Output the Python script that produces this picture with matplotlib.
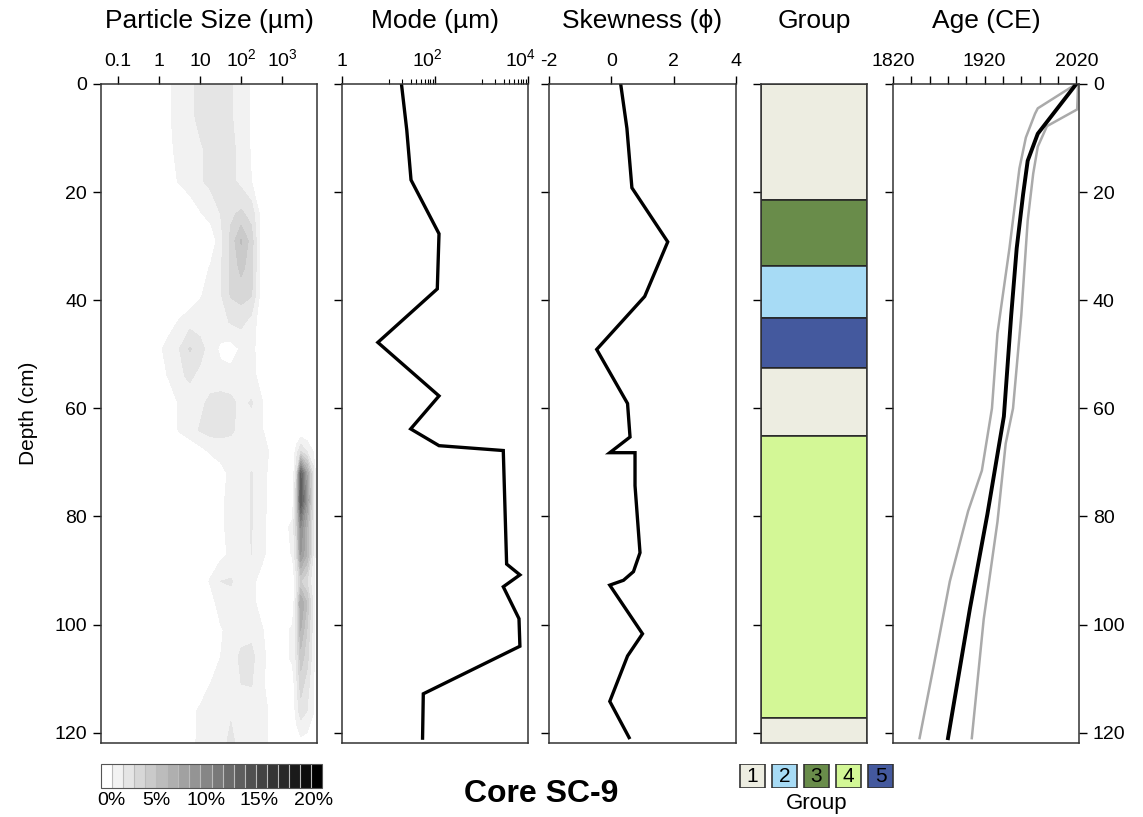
import numpy as np
import matplotlib.pyplot as plt
from matplotlib.colors import ListedColormap
from matplotlib.ticker import NullFormatter
from matplotlib.transforms import ScaledTranslation

plt.rcParams['font.family'] = ['Liberation Sans', 'DejaVu Sans']
plt.rcParams['mathtext.fontset'] = 'custom'
plt.rcParams['mathtext.rm'] = 'Liberation Sans'
plt.rcParams['axes.unicode_minus'] = False

# particle size distribution (% per size class)
ps_depth = [0, 6, 12, 18, 24, 29, 34, 39, 44, 49, 54, 59, 64, 68, 72, 77, 82, 87, 92, 96, 101, 106, 111, 116, 122]
ps_size = [0.04, 1, 1.78, 3.16, 5.62, 10, 17.8, 31.6, 56.2, 100, 178, 316, 562, 1000, 1778, 2239, 2818, 3981, 5623, 7079]
ps_pct = [
    [0, 0.3, 0.9, 1.4, 1.8, 2.2, 2.4, 2.4, 2.1, 1.5, 0.9, 0.3, 0, 0, 0, 0, 0, 0, 0, 0],
    [0, 0.3, 0.9, 1.4, 1.8, 2.2, 2.4, 2.4, 2.1, 1.5, 0.9, 0.3, 0, 0, 0, 0, 0, 0, 0, 0],
    [0, 0.2, 0.8, 1.3, 1.6, 1.9, 2.2, 2.4, 2.3, 1.6, 0.9, 0.3, 0, 0, 0, 0, 0, 0, 0, 0],
    [0, 0.1, 0.6, 1.1, 1.5, 1.9, 2.2, 2.4, 2.3, 1.7, 1.0, 0.3, 0, 0, 0, 0, 0, 0, 0, 0],
    [0, 0, 0, 0, 0.3, 0.9, 1.4, 2.0, 2.8, 3.2, 2.6, 0.5, 0, 0, 0, 0, 0, 0, 0, 0],
    [0, 0, 0, 0, 0, 0, 0.2, 1.6, 3.3, 5.1, 3.5, 0.3, 0, 0, 0, 0, 0, 0, 0, 0],
    [0, 0, 0, 0, 0, 0.4, 1.1, 1.9, 3.2, 4.3, 3.4, 0.3, 0, 0, 0, 0, 0, 0, 0, 0],
    [0, 0, 0, 0, 0.3, 0.9, 1.4, 1.9, 3.1, 3.4, 3.1, 0.4, 0, 0, 0, 0, 0, 0, 0, 0],
    [0, 0, 0.6, 1.1, 1.6, 1.5, 1.3, 1.6, 2.1, 2.3, 1.6, 0.3, 0, 0, 0, 0, 0, 0, 0, 0],
    [0, 0.8, 1.4, 2.0, 3.1, 2.4, 1.5, 0.8, 0.6, 1.1, 1.3, 0.4, 0, 0, 0, 0, 0, 0, 0, 0],
    [0, 0.6, 1.1, 1.8, 2.2, 1.7, 1.4, 1.3, 1.3, 1.3, 1.4, 0.5, 0, 0, 0, 0, 0, 0, 0, 0],
    [0, 0, 0.5, 1.1, 1.4, 1.7, 2.3, 2.5, 2.3, 1.7, 2.1, 1.1, 0.2, 0, 0, 0, 0, 0, 0, 0],
    [0, 0, 0.4, 1.1, 1.5, 2.1, 2.4, 2.4, 2.2, 1.6, 1.5, 1.1, 0.3, 0, 0, 0, 0, 0, 0, 0],
    [0, 0, 0, 0, 0.3, 0.6, 1.1, 1.3, 1.4, 1.4, 1.3, 1.2, 0.9, 0.2, 0.2, 1.5, 3.0, 2.0, 1.0, 0],
    [0, 0, 0, 0, 0, 0, 0.3, 0.7, 1.2, 1.6, 2.05, 1.3, 0.7, 0.2, 0, 3.0, 12.0, 7.0, 2.5, 0],
    [0, 0, 0, 0, 0, 0, 0.3, 0.8, 1.3, 1.6, 2.05, 1.3, 0.7, 0.2, 0.3, 4.0, 13.0, 8.0, 2.5, 0],
    [0, 0, 0, 0, 0, 0, 0.3, 0.8, 1.3, 1.6, 2.05, 1.2, 0.6, 0.5, 1.3, 3.5, 9.0, 6.0, 2.2, 0],
    [0, 0, 0, 0, 0, 0, 0.3, 0.7, 1.2, 1.5, 2.0, 1.2, 0.6, 0.4, 1.1, 3.0, 8.0, 6.0, 2.0, 0],
    [0, 0, 0, 0, 0, 0.4, 1.1, 2.0, 2.1, 1.5, 1.2, 0.7, 0.4, 0, 0.2, 1.8, 4.0, 3.0, 1.3, 0],
    [0, 0, 0, 0, 0, 0, 0.6, 1.4, 1.6, 1.3, 1.3, 0.6, 0, 0, 0.2, 2.5, 7.0, 5.0, 1.8, 0],
    [0, 0, 0, 0, 0, 0, 0.4, 0.9, 1.3, 1.6, 1.7, 1.1, 0.4, 0.6, 1.2, 2.5, 6.0, 4.0, 1.6, 0],
    [0, 0, 0, 0, 0, 0, 0.5, 1.0, 1.5, 2.2, 2.3, 1.3, 0.5, 0.6, 1.2, 2.2, 4.5, 3.5, 1.4, 0],
    [0, 0, 0, 0, 0, 0.3, 1.0, 1.3, 1.6, 2.0, 2.05, 1.2, 0.4, 0.2, 0.5, 1.8, 3.5, 2.5, 1.2, 0],
    [0, 0, 0, 0, 0.6, 1.2, 1.4, 1.6, 1.9, 1.6, 1.5, 1.3, 0.8, 0, 0.2, 1.5, 2.5, 2.0, 1.1, 0],
    [0, 0, 0, 0, 0.7, 1.2, 1.4, 1.7, 2.2, 1.7, 1.5, 1.3, 0.8, 0, 0, 0.3, 0.6, 0.5, 0.2, 0],
]

# mode grain size (um)
mode_depth = [0, 8.5, 17.75, 27.7, 37.9, 47.8, 57.7, 63.8, 66.9, 67.8, 88.8, 90.8, 93, 98.9, 104, 112.8, 121]
mode_um = [19, 24.7, 30.5, 122, 112, 5.9, 122, 30, 122, 2940, 3470, 6700, 2940, 6400, 6700, 56, 54]

# skewness (phi)
skew_depth = [0, 8.2, 19.2, 29.2, 39.3, 49.1, 59.1, 65.3, 68.2, 68.2, 74.3, 86.7, 90.2, 91.8, 92.7, 101.7, 105.8, 114.2, 120.9]
skew_phi = [0.30, 0.50, 0.66, 1.81, 1.07, -0.47, 0.52, 0.60, -0.05, 0.76, 0.76, 0.92, 0.71, 0.39, -0.05, 1.00, 0.52, -0.05, 0.57]

# groups (top, bottom, id)
grp_top = [0, 21.5, 33.6, 43.3, 52.6, 65.2, 117.2]
grp_bot = [21.5, 33.6, 43.3, 52.6, 65.2, 117.2, 122]
grp_id = [1, 3, 2, 5, 1, 4, 1]
grp_names = ['1', '2', '3', '4', '5']
grp_colors = {1: '#EDEDE1', 2: '#A7DBF5', 3: '#698C4A', 4: '#D3F796', 5: '#44599E'}

# age model
age_depth = [0, 9.2, 14.2, 20.4, 30.4, 42.8, 61.5, 66.5, 79.6, 97, 121]
age_mean = [2020, 1978, 1967, 1962, 1955, 1949, 1941, 1936, 1923, 1904, 1880]
age_lo_depth = [0, 4.5, 5.5, 9.9, 15.6, 30.5, 46.1, 60, 71.5, 79, 92, 108, 121]
age_lo = [2020, 1978, 1975, 1965, 1958, 1947, 1934, 1928, 1917, 1902, 1882, 1864, 1849]
age_hi_depth = [0, 4.7, 7.8, 11.6, 16.6, 25.3, 42.8, 60, 66.5, 81, 99, 121]
age_hi = [2022, 2021, 1988, 1978, 1973, 1967, 1960, 1951, 1943, 1934, 1919, 1906]

cbar_ticks = [0.9, 5, 9.5, 14.3, 19.2]
cbar_labels = ['0%', '5%', '10%', '15%', '20%']

W, H = 1143, 817
fig = plt.figure(figsize=(W / 100, H / 100), dpi=100)

TICK = 14
TITLE = 19
DMAX = 121.9


def add_panel(x0, x1):
    ax = fig.add_axes([x0 / W, 1 - 743 / H, (x1 - x0) / W, (743 - 84) / H])
    ax.set_ylim(DMAX, 0)
    ax.set_yticks(np.arange(0, 121, 20))
    ax.tick_params(which='both', direction='out', length=6, width=1, labelsize=TICK, pad=4,
                   top=True, bottom=False, labeltop=True, labelbottom=False,
                   left=True, labelleft=False)
    for s in ax.spines.values():
        s.set_color('#333333')
        s.set_linewidth(1.1)
    return ax


def title(ax, txt):
    ax.text(0.5, 1 + (84 - 21) / 659, txt, transform=ax.transAxes,
            ha='center', va='center', fontsize=TITLE)


# particle size contours
ax1 = add_panel(101, 317)
grey = ListedColormap(plt.cm.gray(np.linspace(1, 0, 20)))
cs = ax1.contourf(np.log10(ps_size), ps_depth, np.array(ps_pct),
                  levels=np.arange(0, 21), cmap=grey)
ax1.set_xlim(np.log10(0.039), np.log10(7000))
ax1.set_xticks(np.log10([0.1, 1, 10, 100, 1000]))
ax1.set_xticklabels(['0.1', '1', '10', r'$\mathregular{10^2}$', r'$\mathregular{10^3}$'])
ax1.tick_params(labelleft=True)
ax1.set_ylabel('Depth (cm)', fontsize=15)
ax1.yaxis.set_label_coords(-63 / 216, 0.5)
title(ax1, 'Particle Size (µm)')

# mode
ax2 = add_panel(342, 528)
ax2.plot(mode_um, mode_depth, color='black', lw=2.4, solid_joinstyle='miter')
ax2.set_xscale('log')
ax2.set_xlim(1, 1e4)
ax2.set_xticks([1, 1e2, 1e4])
ax2.set_xticklabels(['1', r'$\mathregular{10^2}$', r'$\mathregular{10^4}$'])
ax2.set_xticks(list(np.arange(10, 101, 10)) + list(np.arange(1000, 10001, 1000)), minor=True)
ax2.xaxis.set_minor_formatter(NullFormatter())
ax2.tick_params(axis='x', which='minor', top=True, bottom=False, length=3.5, width=0.8)
shift = ScaledTranslation(-8 / 100, 0, fig.dpi_scale_trans)
for lab in ax2.get_xticklabels()[1:]:
    lab.set_transform(lab.get_transform() + shift)
title(ax2, 'Mode (µm)')

# skewness
ax3 = add_panel(549, 736)
ax3.plot(skew_phi, skew_depth, color='black', lw=2.4, solid_joinstyle='miter')
ax3.set_xlim(-2, 4)
ax3.set_xticks([-2, 0, 2, 4])
title(ax3, 'Skewness (ϕ)')

# groups
ax4 = add_panel(761, 867)
ax4.barh(grp_top, 1, height=np.array(grp_bot) - np.array(grp_top), left=0, align='edge',
         color=[grp_colors[g] for g in grp_id], edgecolor='#222222', linewidth=1.1)
ax4.set_xlim(0, 1)
ax4.set_xticks([])
title(ax4, 'Group')

# age
ax5 = add_panel(893, 1079)
ax5.plot(age_lo, age_lo_depth, color='#AAAAAA', lw=1.8)
ax5.plot(age_hi, age_hi_depth, color='#AAAAAA', lw=1.8)
ax5.plot(age_mean, age_depth, color='black', lw=2.8)
ax5.set_xlim(1820, 2023)
ax5.set_xticks(np.arange(1820, 2021, 20))
ax5.set_xticklabels([str(y) if y in (1820, 1920, 2020) else '' for y in range(1820, 2021, 20)])
ax5.tick_params(axis='y', right=True, labelright=True)
title(ax5, 'Age (CE)')

# colour scale
cax = fig.add_axes([101 / W, 1 - 788 / H, 221 / W, 24 / H])
cb = fig.colorbar(cs, cax=cax, orientation='horizontal', drawedges=True)
cb.set_ticks(cbar_ticks)
cb.set_ticklabels(cbar_labels)
cb.ax.tick_params(length=0, labelsize=TICK, pad=3)
cb.outline.set_edgecolor('#555555')
cb.dividers.set_color('#BBBBBB')
cb.dividers.set_linewidth(0.8)

# group legend
lax = fig.add_axes([736.5 / W, 1 - 788 / H, 160 / W, 24 / H])
lax.bar(range(5), 1, width=0.78, bottom=0,
        color=[grp_colors[i + 1] for i in range(5)], edgecolor='#333333', linewidth=1.2)
for i, name in enumerate(grp_names):
    lax.text(i, 0.5, name, ha='center', va='center', fontsize=15)
lax.set_xlim(-0.5, 4.5)
lax.set_ylim(0, 1)
lax.axis('off')
fig.text(817 / W, 1 - 803 / H, 'Group', ha='center', va='center', fontsize=16)

fig.text(541 / W, 1 - 794 / H, 'Core SC-9', ha='center', va='center',
         fontsize=23, fontweight='bold')

fig.savefig('out.png', dpi=100)
